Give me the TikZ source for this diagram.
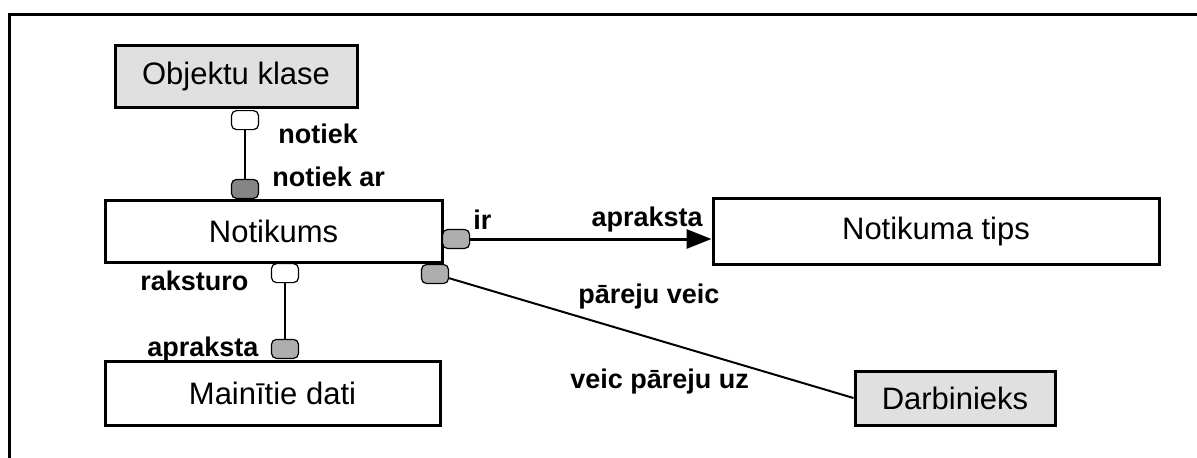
\documentclass[tikz,border=0pt]{standalone}
\usepackage{fontspec}
\setmainfont{Liberation Sans}
\usetikzlibrary{positioning,arrows.meta}
\definecolor{inkc}{HTML}{000000}
\definecolor{boxg}{HTML}{E0E0E0}
\definecolor{endg}{HTML}{AEAEAE}
\definecolor{endd}{HTML}{858585}
\tikzset{
  ent/.style  ={draw=inkc,line width=1.5pt,fill=white,inner sep=0pt,
                font=\fontsize{15.5}{18}\selectfont},
  entg/.style ={ent,fill=boxg},
  opt/.style  ={draw=inkc,line width=.6pt,fill=white,rounded corners=2.5pt,
                minimum width=13.5pt,minimum height=9.5pt,inner sep=0pt},
  mand/.style ={opt,fill=endg},
  rl/.style   ={font=\bfseries\fontsize{13.5}{16}\selectfont,inner sep=0pt},
  ln/.style   ={draw=inkc,line width=1pt},
  ar/.style   ={-{Triangle[length=12.5pt,width=9.5pt]},draw=inkc,line width=1.5pt},
}
\begin{document}
\begin{tikzpicture}[x=0.5pt,y=-0.5pt]
\useasboundingbox (0,0) rectangle (1197,457);
\clip (0,0) rectangle (1197,457);
\fill[white] (0,0) rectangle (1197,457);
\draw[line width=1.5pt] (9.5,14.5) rectangle (1215,475);

% ---- entities ------------------------------------------------------------
\node[entg,minimum width=121pt,minimum height=31pt] (okl)  at (236,76)   {Objektu klase};
\node[ent, minimum width=168.5pt,minimum height=31pt] (not) at (273.5,231) {Notikums};
\node[ent, minimum width=223pt,minimum height=33pt] (tips) at (936,231)  {Notikuma tips};
\node[ent, minimum width=167.5pt,minimum height=32pt] (mdat) at (272.5,393) {Mainītie dati};
\node[entg,minimum width=100pt,minimum height=27pt] (darb) at (955,398)  {Darbinieks};

% ---- relationship ends ----------------------------------------------------
\node[opt,anchor=north] (e1) at (245,110) {};
\node[mand,fill=endd,anchor=south] (e2) at (245,199) {};
\node[opt,anchor=north] (e3) at (285,263) {};
\node[mand,anchor=south] (e4) at (285,359) {};
\node[mand,anchor=west] (e5) at (442,239) {};
\node[mand] (e6) at (435,274) {};

\draw[ln](e1)--(e2);
\draw[ln](e3)--(e4);
\draw[ar](e5.east)--(e5.east-|tips.west);
\draw[ln](e6)--(darb.west);

% ---- role names ------------------------------------------------------------
\node[rl,anchor=west] (r1) at (278,134) {notiek};
\node[rl,anchor=west] (r2) at (272,177) {notiek ar};
\node[rl,anchor=west] (r3) at (473,220) {ir};
\node[rl,anchor=east] (r4) at (703,220) {apraksta};
\node[rl,anchor=west] (r5) at (578,297) {pāreju veic};
\node[rl,anchor=west] (r6) at (570,382) {veic pāreju uz};
\node[rl,anchor=west] (r7) at (140,281) {raksturo};
\node[rl,anchor=west] (r8) at (147,350) {apraksta};
\end{tikzpicture}
\end{document}
